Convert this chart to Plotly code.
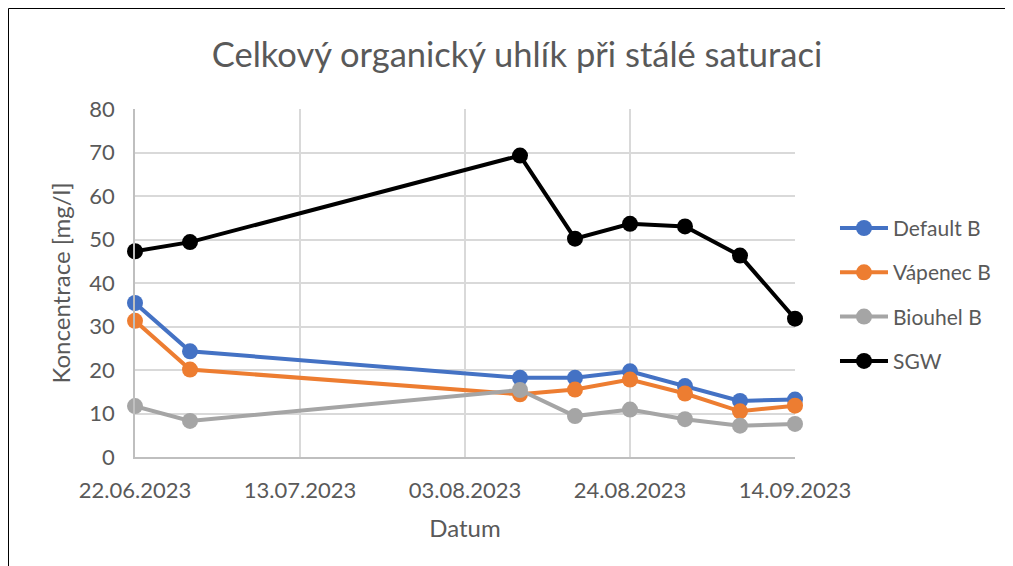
import plotly.graph_objects as go

dates = ["2023-06-22", "2023-06-29", "2023-08-10", "2023-08-17",
         "2023-08-24", "2023-08-31", "2023-09-07", "2023-09-14"]
default_b = [35.4, 24.3, 18.2, 18.2, 19.7, 16.3, 12.9, 13.2]
vapenec_b = [31.3, 20.1, 14.4, 15.5, 17.8, 14.6, 10.5, 11.8]
biouhel_b = [11.7, 8.3, 15.4, 9.4, 10.9, 8.7, 7.2, 7.6]
sgw = [47.3, 49.4, 69.3, 50.2, 53.6, 53.0, 46.3, 31.8]

series = [
    ("Default B", default_b, "#4472C4"),
    ("Vápenec B", vapenec_b, "#ED7D31"),
    ("Biouhel B", biouhel_b, "#A5A5A5"),
    ("SGW", sgw, "#000000"),
]

FONT = "Lato"
TXT = "#595959"

W, H = 1004, 558
L, R, T, B = 127, 217, 101, 109
pw = W - L - R
ph = H - T - B

fig = go.Figure()
for name, vals, col in series:
    fig.add_trace(go.Scatter(
        x=dates, y=vals, name=name, mode="lines+markers",
        legendgroup=name,
        line=dict(color=col, width=4),
        marker=dict(color=col, size=16),
        cliponaxis=False,
    ))

bx0 = -(L - 0.5) / pw
bx1 = (997.5 - L) / pw
by0 = -B / ph
by1 = 1 + (T - 0.5) / ph
border = dict(color="#000000", width=1)

fig.update_layout(
    width=W, height=H,
    paper_bgcolor="white", plot_bgcolor="white",
    margin=dict(l=L, r=R, t=T, b=B),
    title=dict(text="Celkový organický uhlík při stálé saturaci",
               x=509 / W, xanchor="center", y=1 - 47 / H, yanchor="middle",
               font=dict(family=FONT, size=34.5, color=TXT)),
    font=dict(family=FONT, size=22, color=TXT),
    legend=dict(x=1.0606, xanchor="left", y=0.716, yanchor="top",
                bgcolor="rgba(0,0,0,0)",
                font=dict(family=FONT, size=21, color=TXT),
                tracegroupgap=14, itemwidth=48),
    showlegend=True,
    xaxis=dict(
        type="date", range=["2023-06-22", "2023-09-14"],
        tick0="2023-06-22", dtick=21 * 86400000, tickformat="%d.%m.%Y",
        showgrid=True, gridcolor="#D9D9D9", gridwidth=1.5,
        showline=True, linecolor="#BFBFBF", linewidth=1.5,
        ticks="", ticklabelstandoff=13,
        title=dict(text="Datum", font=dict(family=FONT, size=24, color=TXT), standoff=18),
        tickfont=dict(family=FONT, size=22, color=TXT),
    ),
    yaxis=dict(
        range=[0, 80], dtick=10,
        showgrid=True, gridcolor="#D9D9D9", gridwidth=1.5,
        showline=True, linecolor="#BFBFBF", linewidth=1.5,
        zeroline=False, ticks="", ticklabelstandoff=14,
        title=dict(text="Koncentrace [mg/l]", font=dict(family=FONT, size=24, color=TXT), standoff=12),
        tickfont=dict(family=FONT, size=22, color=TXT),
    ),
    shapes=[
        dict(type="line", xref="paper", yref="paper", x0=bx0, x1=bx0, y0=by0, y1=by1, line=border),
        dict(type="line", xref="paper", yref="paper", x0=bx0, x1=bx1, y0=by1, y1=by1, line=border),
        dict(type="line", xref="paper", yref="paper", x0=bx1, x1=bx1, y0=by0, y1=by1, line=border),
    ],
)

fig.write_html("out.html")
